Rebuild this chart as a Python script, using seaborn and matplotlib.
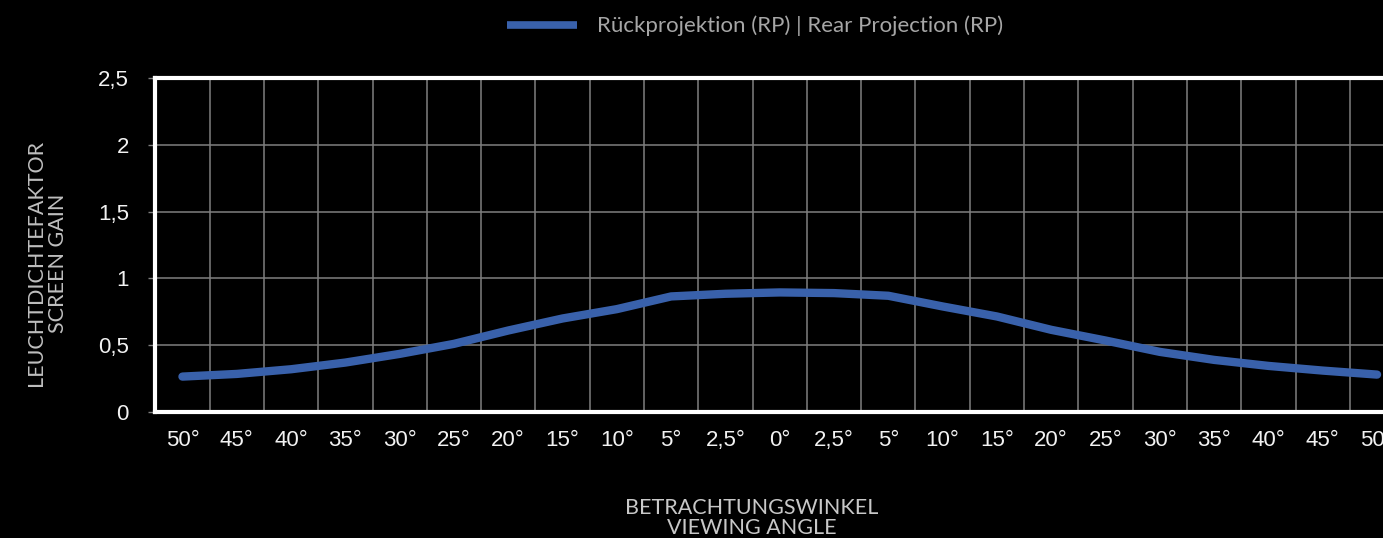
import numpy as np
import pandas as pd
import matplotlib
matplotlib.use("Agg")
import matplotlib.pyplot as plt
import seaborn as sns
from matplotlib.lines import Line2D

# ---- data ----
angle_labels = ["50°", "45°", "40°", "35°", "30°", "25°", "20°", "15°", "10°", "5°", "2,5°",
                "0°", "2,5°", "5°", "10°", "15°", "20°", "25°", "30°", "35°", "40°", "45°", "50°"]
gain_rp = [0.265, 0.285, 0.32, 0.37, 0.435, 0.51, 0.61, 0.70, 0.77, 0.865, 0.885,
           0.895, 0.89, 0.87, 0.79, 0.715, 0.615, 0.535, 0.45, 0.39, 0.345, 0.31, 0.28]
y_ticks = [0, 0.5, 1, 1.5, 2, 2.5]
y_tick_labels = ["0", "0,5", "1", "1,5", "2", "2,5"]
series_name = "Rückprojektion (RP) | Rear Projection (RP)"

df = pd.DataFrame({"pos": np.arange(len(angle_labels)), "gain": gain_rp, "series": series_name})

sns.set_style("dark")
plt.rcParams["font.family"] = ["Liberation Sans", "DejaVu Sans"]

W, H = 1383, 538
fig = plt.figure(figsize=(W / 100, H / 100), dpi=100, facecolor="black")
n = len(angle_labels)
cell = 54.3
left_px, top_px, bottom_px = 155.3, 78, 412
ax = fig.add_axes([left_px / W, 1 - bottom_px / H, n * cell / W, (bottom_px - top_px) / H])
ax.set_facecolor("black")

line_color = "#3961ab"
sns.lineplot(data=df, x="pos", y="gain", hue="series", palette=[line_color], ax=ax,
             linewidth=6, solid_capstyle="round", solid_joinstyle="round", legend=False, zorder=5)

ax.set_xlim(-0.5, n - 0.5)
ax.set_ylim(0, 2.5)

ax.set_xticks(np.arange(n))
ax.set_xticklabels(angle_labels)
ax.set_xticks(np.arange(-0.5, n, 1.0), minor=True)
ax.set_yticks(y_ticks)
ax.set_yticklabels(y_tick_labels)

grid_color = "#7f7f7f"
ax.grid(False)
ax.grid(which="minor", axis="x", color=grid_color, linewidth=1.1)
ax.grid(which="major", axis="y", color=grid_color, linewidth=1.1)
ax.set_axisbelow(True)

ax.tick_params(axis="x", which="major", length=0, pad=13, labelsize=16, labelcolor="#f2f2f2")
ax.tick_params(axis="x", which="minor", length=5, width=1, color=grid_color, direction="out")
ax.tick_params(axis="y", which="major", length=5, width=1, color=grid_color, pad=14,
               labelsize=16, labelcolor="#f2f2f2", left=True)
ax.tick_params(axis="x", bottom=True)

for side in ["left", "top", "bottom", "right"]:
    ax.spines[side].set_visible(True)
    ax.spines[side].set_color("white")
    ax.spines[side].set_linewidth(3)

ax.set_xlabel("")
ax.set_ylabel("")

lato = ["Lato", "DejaVu Sans"]
fig.text(47 / W, 1 - 263 / H, "LEUCHTDICHTEFAKTOR\nSCREEN GAIN", rotation=90,
         ha="center", va="center", multialignment="center", color="#bfbfbf",
         fontsize=15.5, family=lato, linespacing=1.1)
fig.text(752 / W, 1 - 518 / H, "BETRACHTUNGSWINKEL\nVIEWING ANGLE",
         ha="center", va="center", multialignment="center", color="#c8c8c8",
         fontsize=15.5, family=lato, linespacing=0.95)

handle = Line2D([0], [0], color=line_color, linewidth=5.5, solid_capstyle="butt")
leg = fig.legend([handle], [series_name], loc="center", bbox_to_anchor=(755 / W, 1 - 26 / H),
                 frameon=False, handlelength=3.15, handletextpad=0.9,
                 prop={"family": lato, "size": 16})
for t in leg.get_texts():
    t.set_color("#a6a6a6")

fig.savefig("out.png", dpi=100, facecolor="black")
